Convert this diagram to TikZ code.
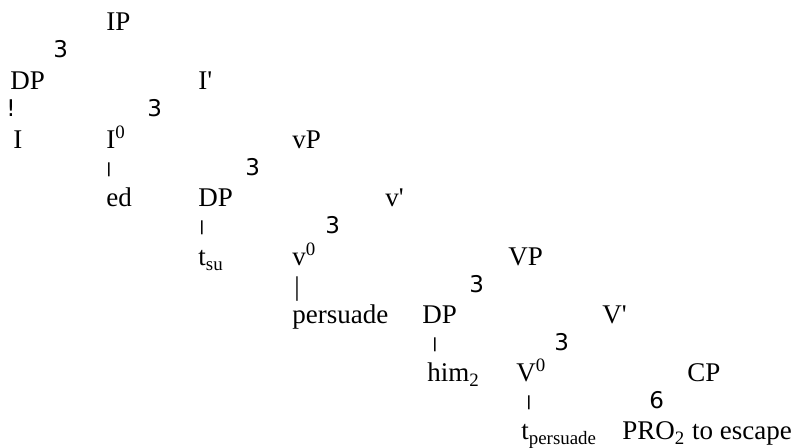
\documentclass[tikz,border=0pt]{standalone}
\usepackage{fontspec}
\setmainfont{Liberation Serif}
\newfontfamily\branchfont{DejaVu Sans}
\begin{document}
\begin{tikzpicture}[x=0.5pt, y=-0.5pt,
    category/.style ={anchor=base west, inner sep=0pt, font=\fontsize{13.5}{16}\selectfont},
    branch/.style ={anchor=base west, inner sep=0pt, font=\branchfont\fontsize{11.5}{13}\selectfont},
    stem/.style ={anchor=base west, inner sep=0pt, font=\branchfont\bfseries\fontsize{7}{8}\selectfont}]
   \useasboundingbox (0,0) rectangle (800,448);

   \node[category] (IP) at (106,31) {IP};
   \node[branch] (B1) at (53,58) {3};
   \node[category] (DPsu) at (10,90) {DP};
   \node[category] (Ibar) at (198,90) {I\textquotesingle};
   \node[branch] (B2) at (6,117) {!};
   \node[branch] (B3) at (147,117) {3};
   \node[category] (I) at (13,149) {I};
   \node[category] (I0) at (106,149) {I\textsuperscript{0}};
   \node[category] (vP) at (292,149) {vP};
   \node[stem] (B4) at (106,174) {|};
   \node[branch] (B5) at (245,176) {3};
   \node[category] (ed) at (106,207) {ed};
   \node[category] (DPt) at (198,207) {DP};
   \node[category] (vbar) at (385,207) {v\textquotesingle};
   \node[stem] (B6) at (199,232) {|};
   \node[branch] (B7) at (325,234) {3};
   \node[category] (tsu) at (198,266) {t\textsubscript{su}};
   \node[category] (v0) at (292,266) {v\textsuperscript{0}};
   \node[category] (VP) at (508,266) {VP};
   \node[category] (B8) at (294,296) {|};
   \node[branch] (B9) at (469,293) {3};
   \node[category] (persuade) at (292,324) {persuade};
   \node[category] (DPobj) at (422,324) {DP};
   \node[category] (Vbar) at (602,324) {V\textquotesingle};
   \node[stem] (B10) at (432,349) {|};
   \node[branch] (B11) at (554,351) {3};
   \node[category] (him) at (427,382) {him\textsubscript{2}};
   \node[category] (V0) at (516,382) {V\textsuperscript{0}};
   \node[category] (CP) at (687,382) {CP};
   \node[stem] (B12) at (526,407) {|};
   \node[branch] (B13) at (649,409) {6};
   \node[category] (tpers) at (521,440) {t\textsubscript{persuade}};
   \node[category] (PRO) at (622,440) {PRO\textsubscript{2} to escape};
 \end{tikzpicture}
\end{document}
